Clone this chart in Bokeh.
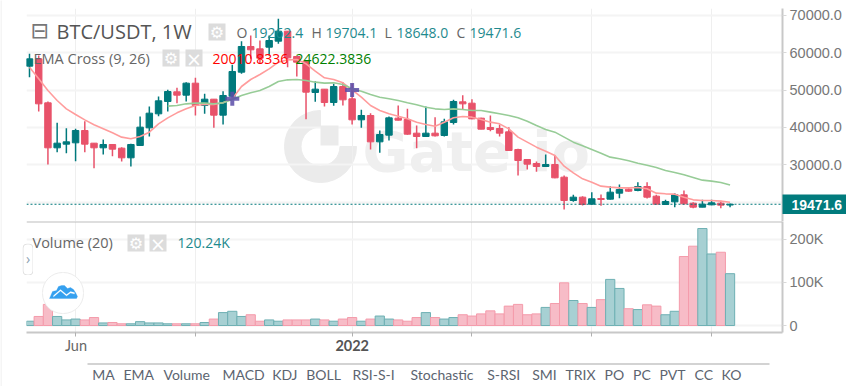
from bokeh.plotting import figure
from bokeh.layouts import column
from bokeh.models import (Range1d, FixedTicker, Label, BoxAnnotation, PolyAnnotation, Span, ColumnDataSource)
from bokeh.embed import file_html
from bokeh.resources import INLINE

opens = [56398,58359,46594,34562,35542,35899,39196,35809,34562,35453,34472,31888,35185,39909,43653,46951,49535,48644,51853,45881,47575,43296,48377,54794,61657,61033,61475,63083,65757,58983,57735,49357,50248,46683,50962,47664,42048,43207,36166,37950,42494,42138,38485,37592,38485,37860,41335,46862,46505,42494,39998,39731,38840,34116,31443,30373,29570,30105,26718,20479,21370,19498,21014,20836,22440,23509,23153,24222,21638,19409,20122,21995,19766,18696,19320,19766,19262.4]
closes = [58359,46327,34562,35809,36166,39196,35542,34562,35453,34205,31888,35453,40088,43831,47129,49625,48644,51853,45881,47575,43296,48555,54972,61657,60766,58537,63261,65757,58627,57468,49446,50248,46683,50962,47396,42048,43207,36166,38127,42583,41960,38216,37592,38485,37771,41514,46951,46327,42316,39553,39463,38485,33849,31175,30195,29570,30105,26540,20479,21370,19409,20925,20747,22707,23421,22975,24222,21370,19498,20213,21995,19588,18696,19498,19855,19231,19471.6]
highs = [59696,59250,46951,41246,39820,39642,41692,35809,36790,35453,34740,35631,42940,45614,48288,50070,50605,52120,53279,49001,47575,49714,56755,63083,64598,63261,64598,69055,65757,58983,57735,52388,50248,51675,52120,51675,44722,43831,39196,42940,45881,44990,40533,45614,42762,42316,47396,48644,47575,42583,43207,40801,40088,34294,31443,30908,32779,32511,27164,21995,21638,22707,22083,24312,24758,23866,25381,25381,21995,20657,22440,23153,20033,20657,20657,20390,19704.1]
lows = [53457,44276,30105,33403,33135,30998,33403,29124,32779,32333,30909,29570,35185,37592,43029,44276,46505,46951,43207,43653,39909,40801,47931,54348,58359,57022,59250,62370,56131,53635,42227,46862,45614,45792,45881,40801,39909,34116,33225,36522,41870,38039,34472,37592,37592,37592,40801,44722,42227,39553,39018,37592,33759,27164,28768,28145,29481,26451,18072,20122,19142,19409,19053,20747,21103,22797,22975,21014,19409,19409,18696,19409,18429,18696,19231,18429,18648.0]
ema9 = [56131,53011,49892,47218,44989,43474,42048,40712,39642,38573,37414,36968,37592,38751,40979,42583,43920,44989,45881,46148,46148,46594,47664,50962,52834,54170,55686,57468,58092,58181,57022,55061,53279,52834,51943,50071,48109,45881,44544,43653,43029,42316,41425,40801,40355,41425,42583,42940,42762,42138,41425,40979,39642,37414,36077,34740,33670,32511,29659,27877,26272,25381,24312,24044,23866,23866,23955,23599,22440,22262,22173,21370,20657,20479,20479,20301,20010.8]
ema26 = [45703,45881,46327,46505,46505,46327,46594,47486,48555,49268,49892,50962,52298,52744,52834,52566,52120,51853,51943,51497,50338,49714,48823,48109,47664,47218,46594,46059,45435,44989,44812,44989,44812,44544,44544,44099,43653,43207,42583,41692,40534,39464,38751,37414,36077,35096,34116,33136,32066,31620,31086,30462,29927,29303,28501,27966,27342,26629,25916,25649,25293,24622.4]
ema26_start = 15
volumes_k = [10,21,49,21,13,15,13,18.5,6,7,4,4,9,6,6,4,4,4,4,7,15,30,33,21,25,10,13,10,13,13,13,15,13,10,15,18.5,10,15,22,15,13,10,18.5,30,18.5,15,18.5,25,22,27,34,27,45,49,25,27,42,51,99,58,51,42,60,107,86,39,37,48,45,25,33,160,184,225,166,170,120.24]
cross_idx = [22, 35]
cross_price = [47700, 50000]
x_tick_idx = [5, 18, 35, 48, 61, 74]
price_ticks = [30000, 40000, 50000, 60000, 70000]
price_grid = [20000, 30000, 40000, 50000, 60000, 70000]
vol_ticks = [0, 100, 200]
last_price = 19471.6
menu = [("MA",91.7),("EMA",123),("Volume",163),("MACD",222),("KDJ",271.7),("BOLL",305.7),("RSI-S-I",352),("Stochastic",410),("S-RSI",486.7),("SMI",531.7),("TRIX",565),("PO",604),("PC",632.6),("PVT",659),("CC",694),("KO",721)]

UP, DOWN = "#00797c", "#e8526a"
L, R, T, MID, B, STRIP = 26, 782, 8, 221, 332, 338
FW = R - L
RB = 846 - R
idx = list(range(len(opens)))
xr = Range1d(-0.325, 81.69)

def fig(fh, yr, top, bottom):
    p = figure(width=846, height=fh+top+bottom, frame_width=FW, frame_height=fh, x_range=xr, y_range=yr,
               y_axis_location="right", toolbar_location=None, output_backend="svg",
               min_border_left=L, min_border_right=RB, min_border_top=top, min_border_bottom=bottom)
    p.outline_line_color = None
    p.background_fill_color = "white"
    p.xgrid.ticker = FixedTicker(ticks=x_tick_idx)
    p.xgrid.grid_line_color = "#efefef"
    p.ygrid.grid_line_color = "#f4f4f4"
    p.ygrid.grid_line_width = 2
    ax = p.yaxis[0]
    ax.axis_line_color = "#c8c8c8"; ax.axis_line_width = 2
    ax.major_tick_line_color = "#d8d8d8"; ax.major_tick_in = 0; ax.major_tick_out = 4
    ax.minor_tick_line_color = None
    ax.major_label_text_color = "#777777"
    ax.major_label_text_font = "Liberation Sans"
    ax.major_label_text_font_size = "14.5px"
    ax.major_label_standoff = 3
    return p

def lab(p, fb, text, x, y, size=14, color="#666666", font="Open Sans", style="normal", align="left", **kw):
    p.add_layout(Label(x=x-L, y=fb-y, x_units="screen", y_units="screen", text=text, text_font=font,
                       text_font_size=f"{size}px", text_color=color, text_font_style=style,
                       text_baseline="middle", text_align=align, **kw))

def box(p, fb, x0, x1, y0, y1, fill, line=None, radius=0, level="annotation"):
    p.add_layout(BoxAnnotation(left=x0-L, right=x1-L, top=fb-y0, bottom=fb-y1,
                               left_units="screen", right_units="screen", top_units="screen", bottom_units="screen",
                               fill_color=fill, fill_alpha=1, line_color=line, line_alpha=1 if line else 0,
                               border_radius=radius, level=level))

def tiny(x, y, w, h, bg):
    q = figure(width=w, height=h, frame_width=w, frame_height=h, x_range=Range1d(0, w), y_range=Range1d(h, 0),
               toolbar_location=None, output_backend="svg", x_axis_location=None, y_axis_location=None,
               min_border_left=0, min_border_right=0, min_border_top=0, min_border_bottom=0, frame_align=False,
               styles={"position": "absolute", "left": f"{x}px", "top": f"{y}px", "z-index": "5"})
    q.outline_line_color = None
    q.grid.visible = False
    q.background_fill_color = bg
    q.border_fill_color = bg
    return q

# ---- price panel
p1 = fig(MID-T, Range1d(14862, 71818), T, 0)
p1.xaxis.visible = False
p1.ygrid.ticker = FixedTicker(ticks=price_grid)
p1.yaxis[0].ticker = FixedTicker(ticks=price_ticks)
p1.yaxis[0].major_label_overrides = {t: f"{t}.0" for t in price_ticks}

# watermark
p1.annular_wedge(x=[31.57], y=[34917], inner_radius=19.5, outer_radius=36, inner_radius_units="screen",
                 outer_radius_units="screen", start_angle=1.5708, end_angle=6.2832, color="#ebebeb", level="underlay")
box(p1, MID, 320, 338, 125, 145, "#ebebeb", level="underlay")
lab(p1, MID, "Gate.io", 362, 151, size=56, color="#efefef", style="bold", font="DejaVu Sans", level="underlay")

colors = [UP if c >= o else DOWN for o, c in zip(opens, closes)]
src = ColumnDataSource(dict(x=idx, o=opens, c=closes, h=highs, l=lows, col=colors,
                            top=[max(a, b) for a, b in zip(opens, closes)],
                            bot=[min(a, b) for a, b in zip(opens, closes)]))
p1.segment("x", "h", "x", "l", color="col", line_width=1.5, source=src)
p1.vbar("x", 0.7, "bot", "top", fill_color="col", line_color="col", source=src)
p1.line(idx, ema9, line_color="#ff9c9c", line_width=1.6)
p1.line(idx[ema26_start:], ema26, line_color="#97cc97", line_width=1.6)
p1.scatter(cross_idx, cross_price, marker="cross", size=14, line_width=4, line_color="#5a4ca8", line_alpha=0.85)
p1.add_layout(Span(location=last_price, dimension="width", line_color=UP, line_dash="2 2", line_width=1))

# legend rows
lab(p1, MID, "\u229f", 30, 30, size=22, color="#777777", font="DejaVu Sans")
lab(p1, MID, "BTC/USDT, 1W", 56, 31, size=20, color="#555555")
def gear(p, fb, x, y, close=False):
    box(p, fb, x, x+17, y-9, y+8, "#dcdcdc")
    lab(p, fb, "\u00d7" if close else "\u2699", x+8.5, y, size=19 if close else 16, color="white", font="DejaVu Sans", align="center")
gear(p1, MID, 208, 32)
lab(p1, MID, "O", 236, 32, color="#666666")
lab(p1, MID, "19262.4", 251, 32, color="#1f8a8e")
lab(p1, MID, "H", 311, 32, color="#666666")
lab(p1, MID, "19704.1", 325, 32, color="#1f8a8e")
lab(p1, MID, "L", 384, 32, color="#666666")
lab(p1, MID, "18648.0", 396, 32, color="#1f8a8e")
lab(p1, MID, "C", 456, 32, color="#666666")
lab(p1, MID, "19471.6", 469, 32, color="#1f8a8e")
lab(p1, MID, "EMA Cross (9, 26)", 33, 58, size=14.5, color="#666666")
gear(p1, MID, 162, 58)
gear(p1, MID, 185, 58, close=True)
lab(p1, MID, "20010.8336", 212, 58, color="#ff0000")
lab(p1, MID, "24622.3836", 295, 58, color="#008000")

# ---- volume panel
p2 = fig(B-MID, Range1d(-16.2, 241.3), 0, STRIP-B)
p2.ygrid.ticker = FixedTicker(ticks=vol_ticks)
p2.yaxis[0].ticker = FixedTicker(ticks=vol_ticks)
p2.yaxis[0].major_label_overrides = {0: "0", 100: "100K", 200: "200K"}
xa = p2.xaxis[0]
xa.ticker = FixedTicker(ticks=x_tick_idx)
xa.major_label_overrides = {t: "" for t in x_tick_idx}
xa.major_label_text_font_size = "1px"
xa.major_label_standoff = 0
xa.axis_line_color = "#c8c8c8"; xa.axis_line_width = 2
xa.major_tick_line_color = "#b0b0b0"; xa.major_tick_in = 0; xa.major_tick_out = 4
xa.minor_tick_line_color = None

fills = ["#a7d0d3" if c == UP else "#f7bcc7" for c in colors]
edges = ["#6eb0b3" if c == UP else "#f49bab" for c in colors]
p2.vbar(idx, 1.0, [0]*len(idx), volumes_k, fill_color=fills, line_color=edges, line_width=1)

box(p2, B, L, R, MID-0.5, MID+1, "#bdbdbd")
lab(p2, B, "Volume (20)", 32, 242, size=14.5)
gear(p2, B, 127, 243)
gear(p2, B, 149, 243, close=True)
lab(p2, B, "120.24K", 177, 242, color="#1f8a8e")

# cloud badge
box(p2, B, 42, 83, 272, 313, "white", "#ececec", radius=20)
cloud_x = [49,52,56,58,61,64,67,70,73,75,77,76,50]
cloud_y = [298,291,290,286,285,285,288,287,289,292,296,298,298]
p2.add_layout(PolyAnnotation(xs=[v-L for v in cloud_x], ys=[B-v for v in cloud_y], xs_units="screen", ys_units="screen",
                             fill_color="#35a0ef", fill_alpha=1, line_color="#35a0ef"))
z_x = [53,60,66,70,74]
z_y = [295,289,294,291,292]
zb = [v+1.6 for v in z_y]
p2.add_layout(PolyAnnotation(xs=[v-L for v in z_x+z_x[::-1]], ys=[B-v for v in z_y+zb[::-1]], xs_units="screen", ys_units="screen",
                             fill_color="white", fill_alpha=1, line_color="white", line_width=0.5))

# ---- time labels and indicator menu strip
p3 = figure(width=846, height=386-STRIP, frame_width=846, frame_height=386-STRIP, x_range=Range1d(0, 846),
            y_range=Range1d(386, STRIP), toolbar_location=None, frame_align=False,
            output_backend="svg", min_border_left=0, min_border_right=0, min_border_top=0, min_border_bottom=0,
            x_axis_location=None, y_axis_location=None)
p3.outline_line_color = None
p3.grid.visible = False
p3.add_layout(Label(x=75.5, y=345, text="Jun", text_font="Lato", text_font_size="14.5px", text_color="#666666",
                    text_baseline="middle", text_align="center"))
p3.add_layout(Label(x=351.7, y=345, text="2022", text_font="Lato", text_font_style="bold", text_font_size="14.5px",
                    text_color="#555555", text_baseline="middle", text_align="center"))
p3.segment([87], [363.5], [769], [363.5], line_color="#c4c4c4", line_width=1.5)
for name, px in menu:
    p3.add_layout(Label(x=px, y=374, text=name, text_font="Lato", text_font_size="14px", text_color="#5c6470",
                        text_baseline="middle"))

# ---- small overlays that sit across panel edges
tag = tiny(782, 194, 64, 20, "#017b7d")
tag.add_layout(Label(x=9, y=10, text="19471.6", text_font="Liberation Sans", text_font_style="bold",
                     text_font_size="14px", text_color="white", text_baseline="middle"))
handle = tiny(22, 243, 11, 32, "white")
handle.add_layout(BoxAnnotation(left=0.5, right=10.5, top=0.5, bottom=31.5, fill_color="white", fill_alpha=1,
                                line_color="#e2e2e2", line_alpha=1, border_radius=4))
handle.add_layout(Label(x=5.5, y=15, text="\u203a", text_font="Open Sans", text_font_size="14px", text_color="#8aa0b0",
                        text_baseline="middle", text_align="center"))
strip = tiny(0, 0, 2, 386, "#f5f5f5")

page = column(p1, p2, p3, tag, handle, strip, spacing=0)
open("out.html", "w").write(file_html(page, INLINE))
